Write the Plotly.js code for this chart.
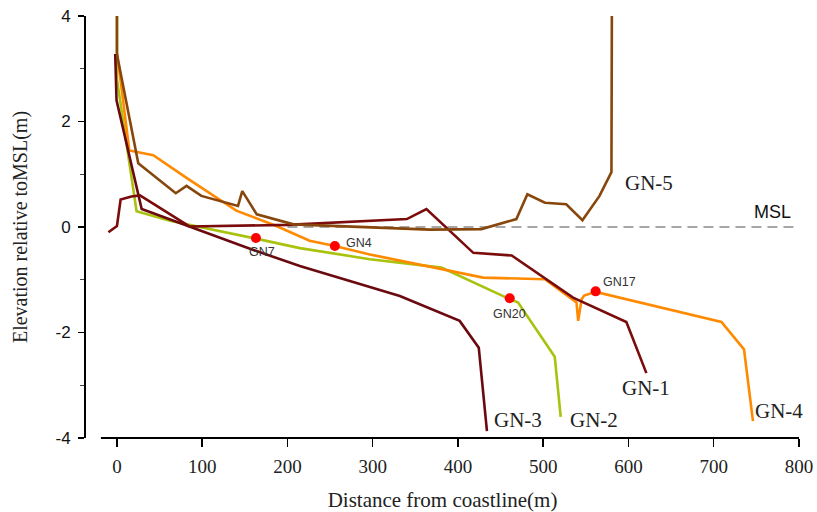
<!DOCTYPE html>
<html>
<head>
<meta charset="utf-8">
<script src="https://cdn.plot.ly/plotly-3.0.1.min.js"></script>
<style>html,body{margin:0;padding:0;background:#fff;}#chart{width:817px;height:512px;}</style>
</head>
<body>
<div id="chart"></div>
<script>
// ---- Data ----
const gn1X = [-10, 0, 4.3, 9.4, 17, 27, 85, 200, 297, 340, 363, 418, 463, 535, 597.5, 621];
const gn1Y = [-0.1, 0.02, 0.52, 0.55, 0.58, 0.60, 0.01, 0.04, 0.11, 0.15, 0.34, -0.49, -0.54, -1.34, -1.80, -2.77];

const gn2X = [0, 0, 23, 62, 163, 214.5, 296.6, 380.6, 453, 470.5, 513.5, 520.5];
const gn2Y = [4, 2.8, 0.3, 0.12, -0.22, -0.40, -0.61, -0.77, -1.31, -1.43, -2.46, -3.6];

const gn3X = [-2, -0.5, 29, 152, 214.5, 296.6, 331.8, 402, 424.4, 434];
const gn3Y = [3.28, 2.4, 0.34, -0.39, -0.74, -1.13, -1.31, -1.78, -2.29, -3.87];

const gn4X = [1.6, 14.5, 42.6, 81.6, 140, 187, 226, 255.6, 296.6, 382.5, 429.5, 502, 539, 541, 545, 548, 561.5, 709, 735.5, 746];
const gn4Y = [3.12, 1.45, 1.36, 0.93, 0.31, 0.02, -0.26, -0.36, -0.52, -0.81, -0.96, -0.99, -1.43, -1.78, -1.37, -1.30, -1.23, -1.80, -2.32, -3.68];

const gn5X = [0, 0, 1.5, 25, 69, 81.6, 99, 142, 147, 164, 207, 300, 367, 427.5, 468.5, 481.4, 502, 527, 546, 566, 580, 580.5];
const gn5Y = [4, 3.3, 3.15, 1.21, 0.64, 0.78, 0.59, 0.40, 0.68, 0.24, 0.05, 0.0, -0.05, -0.04, 0.15, 0.62, 0.46, 0.43, 0.13, 0.59, 1.04, 4];

const sampleNames = ["GN7", "GN4", "GN20", "GN17"];
const sampleX = [163, 255.6, 460.7, 561.5];
const sampleY = [-0.21, -0.36, -1.35, -1.22];

const profileNames = ["GN-1", "GN-2", "GN-3", "GN-4", "GN-5"];
const profileLabelX = [621, 559, 470, 776, 624];
const profileLabelY = [-3.05, -3.66, -3.66, -3.49, 0.84];

const mslLabel = "MSL";
const mslX = [200, 797];
const mslY = [0, 0];

const xTicks = [0, 100, 200, 300, 400, 500, 600, 700, 800];
const yTicks = [-4, -2, 0, 2, 4];

// ---- Traces ----
const lw = 2.6;
function line(x, y, color, name) {
  return {x: x, y: y, type: 'scatter', mode: 'lines', name: name,
          line: {color: color, width: lw}, hoverinfo: 'skip', cliponaxis: false};
}
const traces = [
  {x: mslX, y: mslY, type: 'scatter', mode: 'lines', line: {color: '#8a8a8a', width: 1.6, dash: '10px,6px'}, hoverinfo: 'skip'},
  line(gn2X, gn2Y, '#A9C20E', 'GN-2'),
  line(gn4X, gn4Y, '#FF8A00', 'GN-4'),
  line(gn3X, gn3Y, '#6A0A10', 'GN-3'),
  line(gn1X, gn1Y, '#7A0C0C', 'GN-1'),
  line(gn5X, gn5Y, '#87470C', 'GN-5'),
  {x: sampleX, y: sampleY, type: 'scatter', mode: 'markers',
   marker: {color: '#FF0000', size: 10}, hoverinfo: 'skip'}
];

// ---- Annotations ----
const annotations = [];
profileNames.forEach((t, i) => annotations.push({
  x: profileLabelX[i], y: profileLabelY[i], xref: 'x', yref: 'y', text: t, showarrow: false,
  font: {family: 'Liberation Serif, Times New Roman, serif', size: 21, color: '#222'}
}));
const sampleLabelX = [170, 283.5, 460.7, 589.3];
const sampleLabelY = [-0.47, -0.30, -1.65, -1.04];
sampleNames.forEach((t, i) => annotations.push({
  x: sampleLabelX[i], y: sampleLabelY[i], xref: 'x', yref: 'y', text: t, showarrow: false,
  font: {family: 'Liberation Sans, Arial, sans-serif', size: 12.5, color: '#333'}
}));
annotations.push({x: 768.5, y: 0.29, xref: 'x', yref: 'y', text: mslLabel, showarrow: false,
  font: {family: 'Liberation Sans, Arial, sans-serif', size: 18, color: '#111'}});

const layout = {
  width: 817, height: 512,
  margin: {l: 86, r: 18, t: 16, b: 74},
  paper_bgcolor: '#fff', plot_bgcolor: '#fff',
  showlegend: false,
  xaxis: {
    range: [-36.3, 800], tickvals: xTicks, ticktext: xTicks.map(String),
    showgrid: false, zeroline: false, showline: false,
    ticks: 'outside', ticklen: 8, tickwidth: 1.5, tickcolor: '#000',
    ticklabelstandoff: 3,
    tickfont: {family: 'Liberation Serif, Times New Roman, serif', size: 19, color: '#222'},
    title: {text: 'Distance from coastline(m)', standoff: 17,
            font: {family: 'Liberation Serif, Times New Roman, serif', size: 21, color: '#222'}}
  },
  yaxis: {
    range: [-4, 4], tickvals: yTicks, ticktext: yTicks.map(String),
    showgrid: false, zeroline: false, showline: true, linecolor: '#000', linewidth: 2,
    ticks: 'outside', ticklen: 6, tickwidth: 1.5, tickcolor: '#000',
    minor: {dtick: 1, ticks: 'outside', ticklen: 4, tickwidth: 1, tickcolor: '#444', showgrid: false},
    ticklabelstandoff: 4,
    tickfont: {family: 'Liberation Sans, Arial, sans-serif', size: 17, color: '#111'},
    title: {text: 'Elevation relative toMSL(m)', standoff: 22,
            font: {family: 'Liberation Serif, Times New Roman, serif', size: 20, color: '#222'}}
  },
  shapes: [
    {type: 'line', xref: 'x', yref: 'paper', x0: -18.8, x1: 800, y0: 0, y1: 0,
     line: {color: '#000', width: 2}}
  ],
  annotations: annotations
};

Plotly.newPlot('chart', traces, layout, {staticPlot: true, displayModeBar: false});
</script>
</body>
</html>
